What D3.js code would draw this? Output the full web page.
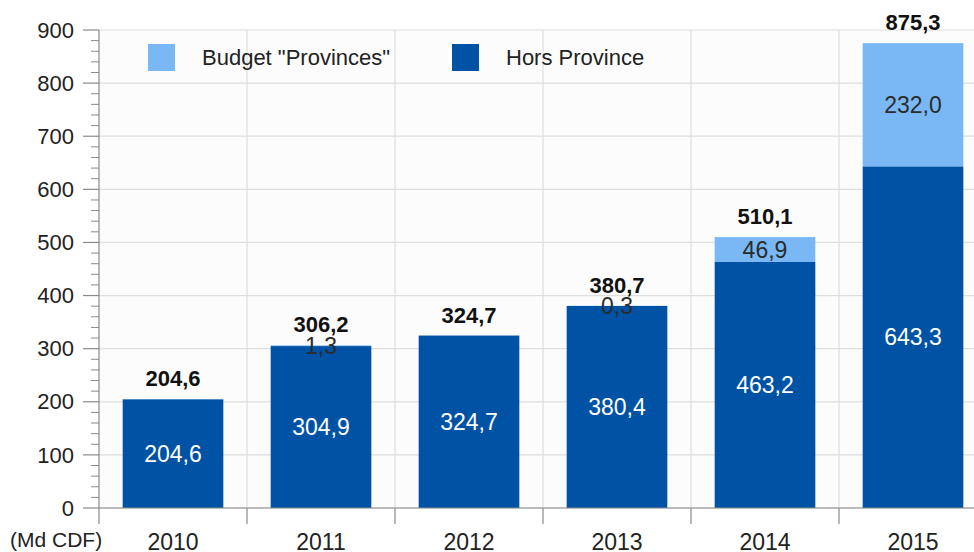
<!DOCTYPE html>
<html>
<head>
<meta charset="utf-8">
<script src="https://cdn.jsdelivr.net/npm/d3@7"></script>
<style>
  html, body { margin: 0; padding: 0; background: #ffffff; }
  svg { display: block; font-family: "Liberation Sans", Arial, sans-serif; }
</style>
</head>
<body>
<svg id="chart" width="974" height="552"></svg>
<script>
// Budget data, in billions of CDF (Md CDF)
const years = ["2010", "2011", "2012", "2013", "2014", "2015"];
const horsProvince = [204.6, 304.9, 324.7, 380.4, 463.2, 643.3];
const provinces = [0, 1.3, 0, 0.3, 46.9, 232.0];
const totals = [204.6, 306.2, 324.7, 380.7, 510.1, 875.3];
const yTicks = [0, 100, 200, 300, 400, 500, 600, 700, 800, 900];
const seriesNames = ["Budget \"Provinces\"", "Hors Province"];

(function () {
  const colDark = "#0053a4";
  const colLight = "#79b8f4";
  const fmt = v => v.toFixed(1).replace(".", ",");

  const svg = d3.select("#chart");
  const W = 974;
  const mLeft = 99, mTop = 30, mBottom = 508;

  const x = d3.scaleBand().domain(years).range([mLeft, mLeft + 148 * 6])
    .paddingInner(0.32).paddingOuter(0.16);
  const y = d3.scaleLinear().domain([0, 900]).range([mBottom, mTop]);

  // plot background
  svg.append("rect").attr("x", mLeft).attr("y", mTop)
    .attr("width", W - mLeft).attr("height", mBottom - mTop).attr("fill", "#fcfcfc");

  // horizontal grid
  svg.append("g").selectAll("line").data(yTicks).join("line")
    .attr("x1", mLeft).attr("x2", W)
    .attr("y1", d => y(d)).attr("y2", d => y(d))
    .attr("stroke", "#dedede").attr("stroke-width", 1.2);

  // vertical grid at category boundaries
  const bounds = years.slice(1).map(yr => x(yr) - x.step() * x.paddingInner() / 2);
  svg.append("g").selectAll("line").data(bounds).join("line")
    .attr("x1", d => d).attr("x2", d => d)
    .attr("y1", mTop).attr("y2", mBottom)
    .attr("stroke", "#dedede").attr("stroke-width", 1.2);

  // stacked bars
  const rows = years.map((yr, i) => ({ yr, h: horsProvince[i], p: provinces[i], t: totals[i] }));
  const bars = svg.append("g");
  bars.selectAll("rect.hors").data(rows).join("rect")
    .attr("class", "hors")
    .attr("x", d => x(d.yr)).attr("width", x.bandwidth())
    .attr("y", d => y(d.h)).attr("height", d => y(0) - y(d.h))
    .attr("fill", colDark);
  bars.selectAll("rect.prov").data(rows.filter(d => d.p > 0)).join("rect")
    .attr("class", "prov")
    .attr("x", d => x(d.yr)).attr("width", x.bandwidth())
    .attr("y", d => y(d.h + d.p)).attr("height", d => y(d.h) - y(d.h + d.p))
    .attr("fill", colLight);

  // value labels
  const labels = svg.append("g").attr("text-anchor", "middle").attr("font-size", 23);
  labels.selectAll("text.hl").data(rows).join("text")
    .attr("class", "hl")
    .attr("x", d => x(d.yr) + x.bandwidth() / 2)
    .attr("y", d => y(d.h / 2)).attr("dy", "0.35em")
    .attr("fill", "#ffffff").text(d => fmt(d.h));
  labels.selectAll("text.pl").data(rows.filter(d => d.p > 0)).join("text")
    .attr("class", "pl")
    .attr("x", d => x(d.yr) + x.bandwidth() / 2)
    .attr("y", d => y(d.h + d.p / 2)).attr("dy", "0.35em")
    .attr("fill", "#2b2b2b").text(d => fmt(d.p));
  labels.selectAll("text.tl").data(rows).join("text")
    .attr("class", "tl")
    .attr("x", d => x(d.yr) + x.bandwidth() / 2)
    .attr("y", d => y(d.t) - 13)
    .attr("font-weight", "bold").attr("font-size", 22)
    .attr("fill", "#111111").text(d => fmt(d.t));

  // y axis
  const yAxis = svg.append("g").attr("transform", `translate(${mLeft},0)`);
  yAxis.append("line").attr("x1", 0).attr("x2", 0).attr("y1", mTop).attr("y2", mBottom + 16)
    .attr("stroke", "#8a8a8a").attr("stroke-width", 1.2);
  const minor = d3.range(0, 901, 20).filter(v => v % 100 !== 0);
  yAxis.selectAll("line.minor").data(minor).join("line")
    .attr("class", "minor")
    .attr("x1", -8).attr("x2", 0).attr("y1", d => y(d)).attr("y2", d => y(d))
    .attr("stroke", "#8a8a8a").attr("stroke-width", 1);
  yAxis.selectAll("line.major").data(yTicks).join("line")
    .attr("class", "major")
    .attr("x1", -16).attr("x2", 0).attr("y1", d => y(d)).attr("y2", d => y(d))
    .attr("stroke", "#8a8a8a").attr("stroke-width", 1.2);
  yAxis.selectAll("text").data(yTicks).join("text")
    .attr("x", -25).attr("y", d => y(d)).attr("dy", "0.35em")
    .attr("text-anchor", "end").attr("font-size", 22).attr("fill", "#222")
    .text(d => d);

  // x axis
  const xAxis = svg.append("g");
  xAxis.append("line").attr("x1", mLeft).attr("x2", W).attr("y1", mBottom).attr("y2", mBottom)
    .attr("stroke", "#8a8a8a").attr("stroke-width", 1.2);
  xAxis.selectAll("line.tick").data(bounds).join("line")
    .attr("class", "tick")
    .attr("x1", d => d).attr("x2", d => d).attr("y1", mBottom).attr("y2", mBottom + 16)
    .attr("stroke", "#8a8a8a").attr("stroke-width", 1.2);
  xAxis.selectAll("text").data(years).join("text")
    .attr("x", d => x(d) + x.bandwidth() / 2).attr("y", 550)
    .attr("text-anchor", "middle").attr("font-size", 23).attr("fill", "#222")
    .text(d => d);
  svg.append("text").attr("x", 10).attr("y", 547)
    .attr("font-size", 21).attr("fill", "#222").text("(Md CDF)");

  // legend
  const legend = svg.append("g");
  const legItems = [
    { name: seriesNames[0], color: colLight, x: 148 },
    { name: seriesNames[1], color: colDark, x: 452 }
  ];
  legItems.forEach(it => {
    legend.append("rect").attr("x", it.x).attr("y", 44).attr("width", 27).attr("height", 27)
      .attr("fill", it.color);
    legend.append("text").attr("x", it.x + 54).attr("y", 65)
      .attr("font-size", 22).attr("fill", "#222").text(it.name);
  });
})();
</script>
</body>
</html>
